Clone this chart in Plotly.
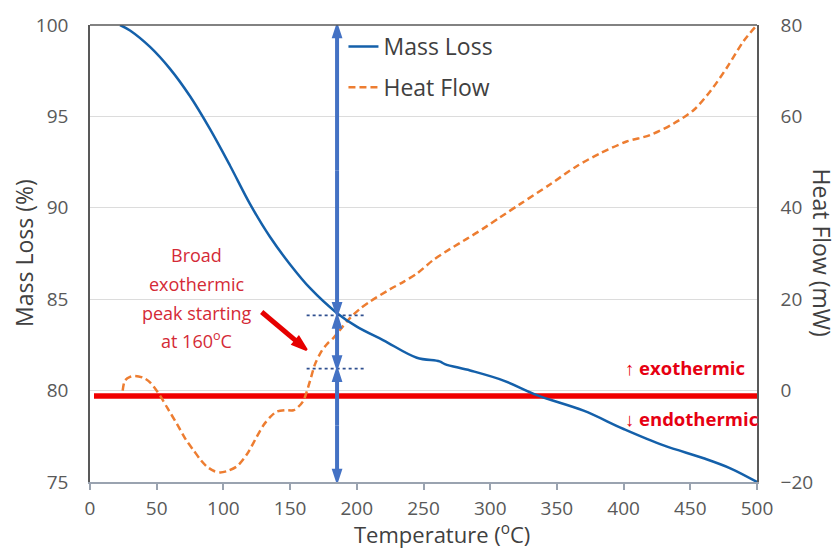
import plotly.graph_objects as go

# ---- data ----
temp_mass = [22.5, 30, 45, 60, 75, 90, 105, 120, 135, 150, 165, 185, 200, 220, 245, 262, 266,
             285, 310, 335, 370, 400, 430, 460, 480, 500]
mass_loss = [100, 99.7, 98.8, 97.6, 96.1, 94.3, 92.3, 90.2, 88.4, 86.9, 85.6, 84.25, 83.5,
             82.75, 81.8, 81.6, 81.45, 81.1, 80.55, 79.75, 78.9, 77.9, 77.0, 76.3, 75.75, 75.0]

temp_heat = [24.5, 26.2, 30, 33.7, 40, 45, 52.5, 58, 65, 72, 77.5, 83, 87.5, 93, 97.5, 103,
             110, 117.5, 125, 130, 135, 140, 146, 152.5, 156, 160, 165, 168.7, 173.7, 178,
             182.4, 188, 195, 202, 210, 225, 235, 245, 257.4, 270, 282.4, 295, 307.3,
             322.3, 344.8, 364.8, 382.3, 402.3, 419.8, 437.3, 452.2, 465, 477.5, 490, 500]
heat_flow = [0, 2.2, 3.0, 3.2, 2.8, 1.8, -1.1, -3.8, -7.2, -10.8, -13, -15.2, -16.6, -17.6,
             -17.9, -17.6, -16.6, -14, -10.1, -7.6, -5.8, -4.6, -4.3, -4.3, -3.6, -2.2, 2.2,
             5.8, 8.7, 10.3, 11.5, 13.5, 15.9, 17.8, 19.5, 22.2, 23.8, 25.6, 28.6, 31.0, 33.2,
             35.5, 37.9, 40.8, 45.1, 49.1, 51.9, 54.5, 55.9, 58.4, 61.3, 65.5, 70.7, 76.5, 80]

baseline_hf = -1.2              # exo/endo divider (mW)
baseline_span = [3, 500]
arrow_temp = 185.2
arrow_levels = [100, 84.12, 81.2, 75]   # mass-loss steps (%)
dotted_span = [162.4, 206]
pointer_tail = (128.7, 84.30)
pointer_head = (162.4, 82.23)
note_lines = ["Broad", "exothermic", "peak starting", "at 160<sup>o</sup>C"]
note_levels = [87.41, 85.84, 84.27, 82.76]
note_temp = 80.2

x_ticks = list(range(0, 501, 50))
mass_ticks = [75, 80, 85, 90, 95, 100]
heat_ticks = [-20, 0, 20, 40, 60, 80]

FONT = "Open Sans"
BLUE = "#1460AA"
ORANGE = "#ED7D31"
RED = "#F00000"
ARROW_BLUE = "#4472C4"
TEXT = "#404040"
TICK = "#595959"

fig = go.Figure()

# heat-flow axis is the primary one (grid + underlying layer); mass loss overlays it
fig.add_trace(go.Scatter(x=baseline_span, y=[baseline_hf] * 2, mode="lines", yaxis="y",
                         line=dict(color=RED, width=5.5), showlegend=False, hoverinfo="skip"))

fig.add_trace(go.Scatter(x=temp_mass, y=mass_loss, name="Mass Loss", mode="lines", yaxis="y2",
                         line=dict(color=BLUE, width=2.5, shape="spline", smoothing=1.0),
                         legendgroup="m", legendrank=1))
fig.add_trace(go.Scatter(x=temp_heat, y=heat_flow, name="Heat Flow", mode="lines", yaxis="y",
                         line=dict(color=ORANGE, width=2.5, dash="7px,4px", shape="spline",
                                   smoothing=0.8),
                         legendgroup="h", legendrank=2))

for lvl in arrow_levels[1:3]:
    fig.add_trace(go.Scatter(x=dotted_span, y=[lvl, lvl], mode="lines", yaxis="y2",
                             line=dict(color="#2F4F8F", width=1.8, dash="dot"),
                             showlegend=False, hoverinfo="skip"))

# vertical double-headed arrows marking the mass-loss steps
for top, bottom in zip(arrow_levels[:-1], arrow_levels[1:]):
    mid = (top + bottom) / 2
    for end in (top, bottom):
        fig.add_trace(go.Scatter(
            x=[arrow_temp, arrow_temp], y=[mid, end], mode="lines+markers", yaxis="y2",
            line=dict(color=ARROW_BLUE, width=4),
            marker=dict(symbol="arrow", angleref="previous", size=[0, 13],
                        color=ARROW_BLUE, opacity=1, line=dict(width=2, color=ARROW_BLUE)),
            showlegend=False, hoverinfo="skip"))

# pointer to the exothermic onset
fig.add_trace(go.Scatter(
    x=[pointer_tail[0], pointer_head[0]], y=[pointer_tail[1], pointer_head[1]],
    mode="lines+markers", yaxis="y2", line=dict(color="#E60000", width=5),
    marker=dict(symbol="arrow", angleref="previous", size=[0, 15], color="#E60000",
                opacity=1, line=dict(width=2.5, color="#E60000")),
    showlegend=False, hoverinfo="skip"))

annotations = []
for txt, lvl in zip(note_lines, note_levels):
    annotations.append(dict(x=note_temp, y=lvl, xref="x", yref="y2", text=txt,
                            showarrow=False, xanchor="center", yanchor="middle",
                            font=dict(family=FONT, size=18, color="#D42A36")))

annotations.append(dict(x=399.6, y=81.27, xref="x", yref="y2", text="<b>↑ exothermic</b>",
                        showarrow=False, xanchor="left", yanchor="middle",
                        font=dict(family=FONT, size=18.5, color="#E60012")))
annotations.append(dict(x=399.6, y=78.46, xref="x", yref="y2", text="<b>↓ endothermic</b>",
                        showarrow=False, xanchor="left", yanchor="middle",
                        font=dict(family=FONT, size=18.5, color="#E60012")))

# axis titles
annotations.append(dict(x=-0.1, y=0.502, xref="paper", yref="paper", text="Mass Loss (%)",
                        textangle=-90, showarrow=False, xanchor="center", yanchor="middle",
                        font=dict(family=FONT, size=23, color=TEXT)))
annotations.append(dict(x=1.0975, y=0.502, xref="paper", yref="paper", text="Heat Flow (mW)",
                        textangle=90, showarrow=False, xanchor="center", yanchor="middle",
                        font=dict(family=FONT, size=23, color=TEXT)))
annotations.append(dict(x=0.528, y=-0.1125, xref="paper", yref="paper",
                        text="Temperature (<sup>o</sup>C)",
                        showarrow=False, xanchor="center", yanchor="middle",
                        font=dict(family=FONT, size=22, color=TEXT)))

fig.update_layout(
    width=837, height=550,
    margin=dict(l=90, r=80, t=20, b=68),
    plot_bgcolor="white", paper_bgcolor="white",
    font=dict(family=FONT, color=TICK),
    showlegend=True,
    legend=dict(x=0.38, y=1.0, xanchor="left", yanchor="top",
                bgcolor="rgba(0,0,0,0)", font=dict(family=FONT, size=23, color=TEXT),
                itemwidth=30, tracegroupgap=8),
    xaxis=dict(range=[0, 500], tickvals=x_ticks, ticks="outside", ticklen=6,
               tickcolor="#9AA3B0", tickwidth=1.5, showline=True, linecolor="#9AA3B0",
               linewidth=1.5, showgrid=False, zeroline=False,
               tickfont=dict(family=FONT, size=19, color=TICK), ticklabelstandoff=2),
    yaxis=dict(range=[-20, 80], tickvals=heat_ticks, side="right",
               showline=True, linecolor="#595959", linewidth=1.5,
               showgrid=True, gridcolor="#DCDCDC", gridwidth=1.2,
               zeroline=False, ticks="", tickfont=dict(family=FONT, size=19, color=TICK),
               ticklabelstandoff=18),
    yaxis2=dict(range=[75, 100], tickvals=mass_ticks, overlaying="y", side="left",
                showline=True, linecolor="#595959", linewidth=1.5, showgrid=False,
                zeroline=False, ticks="", tickfont=dict(family=FONT, size=19, color=TICK),
                ticklabelstandoff=16),
    annotations=annotations,
    shapes=[dict(type="line", xref="paper", yref="paper", x0=0, x1=1, y0=1, y1=1,
                 line=dict(color="#595959", width=1.5))],
)

fig.write_html("out.html")
